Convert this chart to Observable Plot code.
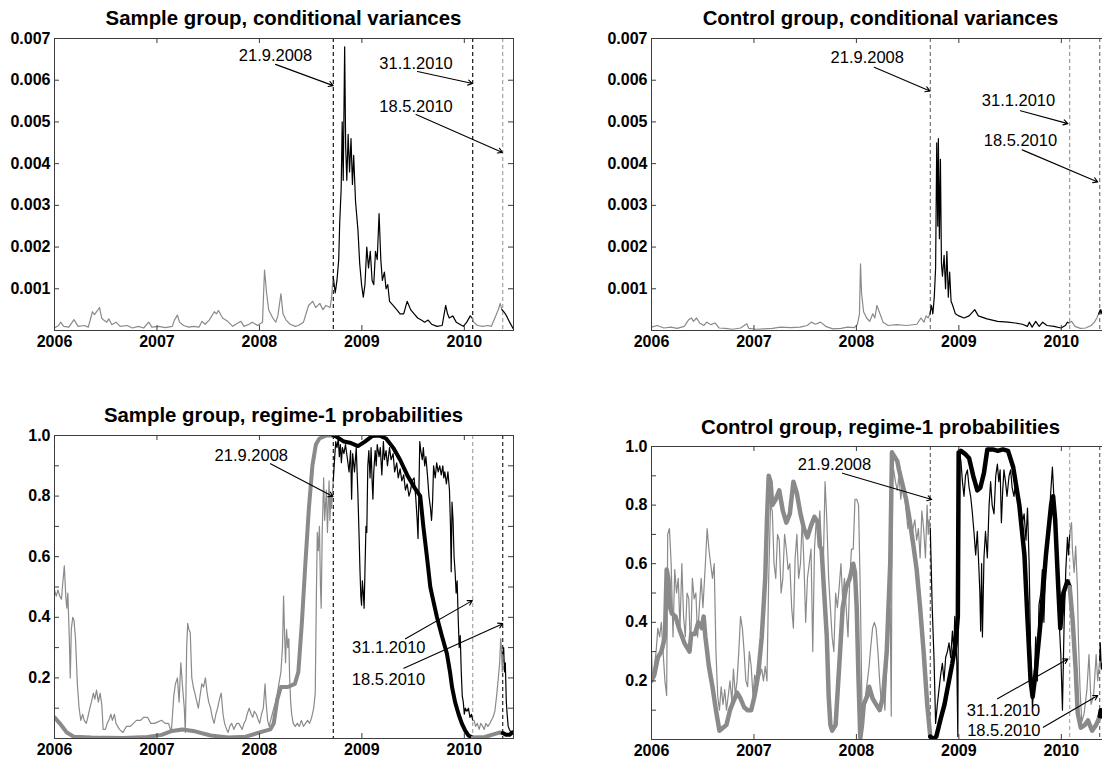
<!DOCTYPE html>
<html><head><meta charset="utf-8">
<script src="https://cdn.jsdelivr.net/npm/d3@7"></script>
<script src="https://cdn.jsdelivr.net/npm/@observablehq/plot@0.6"></script>
<style>
html,body{margin:0;padding:0;width:1102px;height:763px;overflow:hidden;background:#fff;}
#root{position:relative;width:1102px;height:763px;overflow:hidden;}
#root svg{position:absolute;}
.title{position:absolute;font-family:"Liberation Sans",Arial,sans-serif;font-weight:bold;font-size:20.4px;text-align:center;line-height:22px;white-space:nowrap;color:#000;}
</style></head><body><div id="root"></div>
<script>
// ---------- tick labels / categories ----------
const years = [2006, 2007, 2008, 2009, 2010];
const xDomain = [2006, 2010.48];
const varTicks = [0.001, 0.002, 0.003, 0.004, 0.005, 0.006, 0.007];
const probTicks = [0.2, 0.4, 0.6, 0.8, 1.0];
const probMinorTicks = [0.1, 0.3, 0.5, 0.7, 0.9];
const eventYears = [2008.721, 2010.082, 2010.375];
const eventLabels = ["21.9.2008", "31.1.2010", "18.5.2010"];
const titles = ["Sample group, conditional variances", "Control group, conditional variances",
  "Sample group, regime-1 probabilities", "Control group, regime-1 probabilities"];

// ---------- series: [decimal year, value] ----------
const sampleVar = [
[2006.0,0.00006],[2006.04,0.00012],[2006.06,0.0002],[2006.09,0.0001],[2006.14,0.00008],[2006.19,0.00026],[2006.23,0.0001],[2006.29,0.00012],[2006.33,0.00008],[2006.37,0.00045],[2006.39,0.00038],[2006.42,0.00048],[2006.44,0.00055],[2006.46,0.0003],[2006.48,0.00025],[2006.51,0.0002],[2006.53,0.00028],[2006.56,0.00014],[2006.6,0.0002],[2006.64,0.0001],[2006.71,0.00012],[2006.76,0.00006],[2006.82,0.0001],[2006.87,0.00006],[2006.92,0.0002],[2006.95,0.00008],[2007.02,0.0001],[2007.08,0.00007],[2007.15,0.0001],[2007.17,0.00025],[2007.2,0.00037],[2007.22,0.0002],[2007.26,0.00012],[2007.31,0.00008],[2007.36,0.0001],[2007.41,0.00008],[2007.44,0.00022],[2007.47,0.00015],[2007.51,0.00025],[2007.56,0.00045],[2007.58,0.0004],[2007.6,0.00048],[2007.64,0.0003],[2007.69,0.00022],[2007.74,0.0001],[2007.77,0.00015],[2007.82,0.00022],[2007.85,0.0001],[2007.9,0.00015],[2007.93,0.0002],[2007.98,0.00012],[2008.03,0.0002],[2008.05,0.00145],[2008.07,0.0009],[2008.09,0.0005],[2008.13,0.0003],[2008.16,0.0002],[2008.18,0.00035],[2008.21,0.00088],[2008.23,0.0004],[2008.26,0.00025],[2008.3,0.00015],[2008.35,0.0001],[2008.38,0.00012],[2008.43,0.0002],[2008.48,0.0006],[2008.52,0.0007],[2008.55,0.00055],[2008.59,0.00065],[2008.62,0.0005],[2008.65,0.0006],[2008.69,0.00055],[2008.705,0.0008],[2008.72,0.0013],
[2008.74,0.0009],[2008.757,0.0012],[2008.774,0.0017],[2008.784,0.0026],[2008.798,0.0034],[2008.808,0.005],[2008.818,0.0036],[2008.832,0.0068],[2008.842,0.0044],[2008.853,0.0036],[2008.866,0.0047],[2008.88,0.0038],[2008.894,0.0046],[2008.908,0.0035],[2008.92,0.0042],[2008.938,0.0031],[2008.962,0.0024],[2008.979,0.0016],[2008.997,0.0011],[2009.014,0.0008],[2009.03,0.0011],[2009.048,0.002],[2009.065,0.0015],[2009.082,0.0019],[2009.1,0.0012],[2009.116,0.0011],[2009.133,0.0019],[2009.15,0.0017],[2009.168,0.0028],[2009.185,0.0017],[2009.2,0.0012],[2009.22,0.0014],[2009.236,0.001],[2009.253,0.0011],[2009.27,0.0007],[2009.305,0.0006],[2009.34,0.0005],[2009.373,0.0004],[2009.408,0.0004],[2009.442,0.0007],[2009.476,0.0005],[2009.51,0.0004],[2009.545,0.0003],[2009.58,0.00025],[2009.613,0.0002],[2009.647,0.00025],[2009.68,0.00015],[2009.733,0.0001],[2009.784,0.00012],[2009.818,0.0006],[2009.836,0.0004],[2009.853,0.0003],[2009.887,0.00035],[2009.921,0.0002],[2009.955,0.00015],[2009.99,0.0001],[2010.024,0.0002],[2010.058,0.00035],[2010.075,0.0003],
[2010.092,0.0002],[2010.127,0.00012],[2010.178,0.0001],[2010.23,0.00012],[2010.264,0.0001],[2010.298,0.0003],[2010.332,0.0005],[2010.35,0.00065],[2010.367,0.0005],
[2010.384,0.00045],[2010.4,0.0004],[2010.418,0.00032],[2010.442,0.0002],[2010.476,0.00005]];

const controlVar = [
[2006.0,0.00008],[2006.055,0.00012],[2006.12,0.00006],[2006.19,0.00008],[2006.25,0.00005],[2006.32,0.0001],[2006.36,0.00025],[2006.39,0.0003],[2006.41,0.00022],[2006.44,0.0003],[2006.47,0.00018],[2006.51,0.00012],[2006.54,0.0002],[2006.58,0.00014],[2006.62,0.00018],[2006.66,0.00006],[2006.72,0.00005],[2006.79,0.00003],[2006.87,0.00006],[2006.93,0.00016],[2006.95,0.00005],[2007.02,0.00003],[2007.1,0.00004],[2007.18,0.00005],[2007.26,0.00008],[2007.36,0.00007],[2007.45,0.00008],[2007.52,0.00012],[2007.56,0.0002],[2007.6,0.00015],[2007.65,0.0002],[2007.7,0.0001],[2007.77,0.00004],[2007.85,0.00005],[2007.91,0.00008],[2007.98,0.00007],[2008.01,0.00015],[2008.03,0.0004],[2008.04,0.0016],[2008.05,0.0009],[2008.07,0.00045],[2008.1,0.0003],[2008.13,0.00022],[2008.16,0.0004],[2008.18,0.0003],[2008.2,0.0006],[2008.23,0.0004],[2008.26,0.0002],[2008.31,0.00012],[2008.39,0.00014],[2008.49,0.00012],[2008.59,0.00015],[2008.63,0.0003],[2008.66,0.0002],[2008.68,0.00035],[2008.7,0.0003],[2008.718,0.0004],
[2008.732,0.0006],[2008.746,0.0004],[2008.76,0.0008],[2008.773,0.0015],[2008.784,0.0045],[2008.794,0.0025],[2008.8,0.0046],[2008.81,0.0022],[2008.82,0.0041],[2008.83,0.0016],[2008.84,0.0013],[2008.856,0.0018],[2008.87,0.001],[2008.883,0.0019],[2008.897,0.0008],[2008.91,0.0014],[2008.924,0.0007],[2008.94,0.0006],[2008.966,0.0004],[2009.0,0.00035],[2009.05,0.0003],[2009.1,0.00035],[2009.155,0.0005],[2009.19,0.00035],[2009.275,0.00028],[2009.378,0.00022],[2009.48,0.0002],[2009.55,0.00018],[2009.62,0.00015],[2009.67,0.0001],[2009.687,0.0002],[2009.715,0.00008],[2009.75,0.00022],[2009.784,0.0001],[2009.818,0.0002],[2009.86,0.00012],[2009.928,0.0001],[2009.997,0.00006],[2010.04,0.00012],[2010.06,0.0002],[2010.075,0.00018],
[2010.1,0.00022],[2010.134,0.0001],[2010.186,0.00005],[2010.237,0.00006],[2010.29,0.00012],[2010.323,0.0002],[2010.347,0.0003],[2010.364,0.0004],
[2010.38,0.0005],[2010.388,0.0004],[2010.4,0.0005],[2010.43,0.0003],[2010.47,0.0002]];

const sampleProbThin = [
[2006.0,0.49],[2006.017,0.47],[2006.034,0.49],[2006.051,0.47],[2006.068,0.46],[2006.08,0.51],[2006.096,0.57],[2006.11,0.47],[2006.12,0.43],[2006.13,0.48],[2006.144,0.34],[2006.154,0.2],[2006.164,0.36],[2006.178,0.4],[2006.19,0.39],[2006.205,0.33],[2006.223,0.18],[2006.24,0.1],[2006.257,0.06],[2006.275,0.08],[2006.29,0.06],[2006.31,0.05],[2006.325,0.07],[2006.345,0.1],[2006.36,0.12],[2006.38,0.15],[2006.394,0.13],[2006.41,0.16],[2006.428,0.12],[2006.445,0.15],[2006.462,0.11],[2006.475,0.03],[2006.497,0.03],[2006.515,0.05],[2006.53,0.06],[2006.55,0.08],[2006.565,0.06],[2006.585,0.08],[2006.6,0.05],[2006.634,0.03],[2006.668,0.02],[2006.702,0.04],[2006.74,0.04],[2006.77,0.05],[2006.8,0.06],[2006.84,0.06],[2006.87,0.07],[2006.908,0.07],[2006.94,0.05],[2006.976,0.05],[2007.01,0.055],[2007.045,0.06],[2007.08,0.05],[2007.113,0.05],[2007.14,0.02],[2007.164,0.14],[2007.18,0.18],[2007.2,0.2],[2007.216,0.12],[2007.233,0.25],[2007.25,0.17],[2007.267,0.1],[2007.277,0.02],[2007.29,0.3],[2007.3,0.38],[2007.312,0.36],[2007.325,0.35],[2007.34,0.2],[2007.355,0.17],[2007.37,0.15],[2007.39,0.12],[2007.404,0.1],[2007.42,0.14],[2007.438,0.18],[2007.455,0.17],[2007.473,0.2],[2007.49,0.15],[2007.505,0.12],[2007.524,0.1],[2007.54,0.07],[2007.558,0.05],[2007.575,0.08],[2007.592,0.1],[2007.61,0.13],[2007.627,0.15],[2007.645,0.08],[2007.66,0.05],[2007.68,0.03],[2007.695,0.02],[2007.71,0.04],[2007.73,0.05],[2007.75,0.03],[2007.764,0.04],[2007.78,0.05],[2007.798,0.05],[2007.815,0.04],[2007.832,0.03],[2007.85,0.05],[2007.866,0.06],[2007.88,0.08],[2007.9,0.1],[2007.92,0.08],[2007.935,0.07],[2007.95,0.09],[2007.97,0.08],[2007.99,0.06],[2008.003,0.05],[2008.02,0.08],[2008.038,0.1],[2008.055,0.18],[2008.065,0.12],[2008.08,0.06],[2008.095,0.04],[2008.11,0.06],[2008.125,0.08],[2008.14,0.1],[2008.158,0.12],[2008.175,0.15],[2008.19,0.18],[2008.21,0.22],[2008.225,0.3],[2008.236,0.47],[2008.245,0.35],[2008.255,0.25],[2008.265,0.36],[2008.277,0.3],[2008.287,0.33],[2008.295,0.2],[2008.305,0.12],[2008.315,0.08],[2008.33,0.05],[2008.35,0.04],[2008.37,0.05],[2008.39,0.04],[2008.41,0.06],[2008.43,0.04],[2008.45,0.05],[2008.47,0.06],[2008.49,0.05],[2008.51,0.07],[2008.53,0.1],[2008.545,0.15],[2008.555,0.45],[2008.565,0.68],[2008.575,0.62],[2008.586,0.7],[2008.596,0.5],[2008.603,0.43],[2008.613,0.68],[2008.627,0.86],[2008.637,0.72],[2008.647,0.78],[2008.654,0.82],[2008.664,0.68],[2008.671,0.76],[2008.68,0.85],[2008.688,0.72],[2008.697,0.8],[2008.705,0.76],[2008.715,0.83],[2008.721,0.85],
[2008.735,0.93],[2008.745,0.98],[2008.757,0.96],[2008.77,0.99],[2008.78,0.93],[2008.79,0.97],[2008.8,0.91],[2008.81,0.96],[2008.825,0.94],[2008.84,0.97],[2008.86,0.92],[2008.875,0.88],[2008.89,0.95],[2008.9,0.79],[2008.91,0.94],[2008.928,0.88],[2008.945,0.96],[2008.96,0.82],[2008.972,0.68],[2008.982,0.55],[2008.99,0.47],[2008.997,0.44],[2009.005,0.52],[2009.014,0.48],[2009.022,0.43],[2009.03,0.55],[2009.04,0.7],[2009.048,0.68],[2009.058,0.9],[2009.068,0.95],[2009.08,0.86],[2009.09,0.96],[2009.1,0.85],[2009.108,0.79],[2009.116,0.88],[2009.13,0.95],[2009.14,0.9],[2009.15,0.97],[2009.168,0.93],[2009.18,0.96],[2009.195,0.87],[2009.21,0.98],[2009.22,0.92],[2009.236,0.95],[2009.25,0.9],[2009.27,0.96],[2009.285,0.92],[2009.305,0.94],[2009.32,0.88],[2009.34,0.91],[2009.355,0.86],[2009.373,0.89],[2009.39,0.85],[2009.408,0.87],[2009.425,0.82],[2009.442,0.84],[2009.46,0.8],[2009.476,0.82],[2009.49,0.85],[2009.51,0.86],[2009.525,0.8],[2009.54,0.72],[2009.548,0.66],[2009.556,0.8],[2009.565,0.98],[2009.575,0.95],[2009.59,0.92],[2009.6,0.96],[2009.613,0.9],[2009.625,0.93],[2009.64,0.87],[2009.655,0.8],[2009.67,0.76],[2009.68,0.72],[2009.69,0.78],[2009.7,0.9],[2009.716,0.86],[2009.73,0.91],[2009.745,0.88],[2009.76,0.9],[2009.775,0.87],[2009.79,0.9],[2009.8,0.86],[2009.81,0.88],[2009.825,0.84],[2009.84,0.88],[2009.855,0.82],[2009.865,0.7],[2009.872,0.55],[2009.88,0.78],[2009.89,0.72],[2009.9,0.6],[2009.91,0.55],[2009.92,0.48],[2009.93,0.52],[2009.94,0.4],[2009.95,0.3],[2009.96,0.34],[2009.97,0.22],[2009.98,0.14],[2009.99,0.12],[2010.0,0.08],[2010.01,0.1],[2010.025,0.09],[2010.04,0.1],[2010.055,0.07],[2010.07,0.08],[2010.082,0.06],
[2010.095,0.06],[2010.11,0.04],[2010.127,0.05],[2010.145,0.03],[2010.16,0.05],[2010.18,0.04],[2010.195,0.03],[2010.21,0.05],[2010.23,0.04],[2010.25,0.05],[2010.264,0.06],[2010.28,0.07],[2010.298,0.09],[2010.315,0.14],[2010.332,0.2],[2010.345,0.25],[2010.355,0.33],[2010.362,0.3],[2010.37,0.22],[2010.375,0.28],
[2010.384,0.3],[2010.392,0.22],[2010.4,0.25],[2010.41,0.12],[2010.418,0.08],[2010.428,0.04],[2010.44,0.03],[2010.455,0.02],[2010.47,0.02]];

const sampleProbThick = [
[2006.0,0.07],[2006.051,0.05],[2006.12,0.02],[2006.188,0.006],[2006.36,0.003],[2006.668,0.002],[2006.908,0.005],[2007.045,0.012],[2007.147,0.025],[2007.25,0.03],[2007.353,0.025],[2007.524,0.01],[2007.695,0.003],[2007.866,0.006],[2008.003,0.02],[2008.106,0.03],[2008.14,0.05],[2008.175,0.13],[2008.21,0.17],[2008.277,0.17],[2008.346,0.18],[2008.38,0.22],[2008.414,0.38],[2008.449,0.58],[2008.483,0.76],[2008.517,0.9],[2008.551,0.97],[2008.586,0.99],[2008.654,1.0],[2008.721,1.0],
[2008.757,0.995],[2008.825,0.98],[2008.894,0.975],[2008.962,0.965],[2009.03,0.98],[2009.1,0.998],[2009.168,1.0],[2009.236,0.99],[2009.305,0.96],[2009.373,0.92],[2009.442,0.87],[2009.51,0.83],[2009.57,0.8],[2009.6,0.7],[2009.635,0.6],[2009.668,0.5],[2009.7,0.45],[2009.733,0.4],[2009.78,0.34],[2009.83,0.28],[2009.86,0.22],[2009.88,0.17],[2009.91,0.12],[2009.944,0.08],[2009.975,0.05],[2010.01,0.025],[2010.04,0.01],[2010.082,0.003],
[2010.2,0.005],[2010.3,0.015],[2010.35,0.02],[2010.375,0.018],
[2010.41,0.012],[2010.44,0.012],[2010.47,0.02]];

const controlProbThin = [
[2006.0,0.3],[2006.01,0.2],[2006.027,0.25],[2006.045,0.3],[2006.062,0.38],[2006.079,0.35],[2006.096,0.4],[2006.113,0.3],[2006.131,0.2],[2006.148,0.15],[2006.158,0.7],[2006.175,0.72],[2006.192,0.6],[2006.21,0.35],[2006.227,0.58],[2006.244,0.5],[2006.261,0.55],[2006.278,0.38],[2006.296,0.6],[2006.313,0.42],[2006.33,0.35],[2006.347,0.5],[2006.364,0.48],[2006.381,0.3],[2006.399,0.55],[2006.416,0.48],[2006.433,0.5],[2006.45,0.35],[2006.467,0.45],[2006.485,0.55],[2006.502,0.45],[2006.526,0.6],[2006.543,0.72],[2006.56,0.65],[2006.577,0.6],[2006.595,0.55],[2006.612,0.6],[2006.629,0.3],[2006.646,0.15],[2006.663,0.1],[2006.68,0.18],[2006.698,0.12],[2006.715,0.17],[2006.732,0.1],[2006.749,0.15],[2006.766,0.2],[2006.784,0.13],[2006.8,0.24],[2006.818,0.15],[2006.835,0.2],[2006.852,0.3],[2006.869,0.42],[2006.887,0.38],[2006.904,0.3],[2006.921,0.2],[2006.938,0.18],[2006.955,0.3],[2006.973,0.25],[2006.99,0.15],[2007.007,0.22],[2007.024,0.2],[2007.041,0.25],[2007.058,0.22],[2007.076,0.24],[2007.093,0.2],[2007.11,0.25],[2007.127,0.2],[2007.144,0.55],[2007.162,0.8],[2007.179,0.78],[2007.196,0.6],[2007.213,0.55],[2007.23,0.7],[2007.247,0.68],[2007.265,0.5],[2007.282,0.55],[2007.299,0.7],[2007.316,0.65],[2007.333,0.58],[2007.35,0.6],[2007.368,0.45],[2007.385,0.38],[2007.402,0.62],[2007.419,0.7],[2007.436,0.55],[2007.454,0.6],[2007.471,0.75],[2007.488,0.6],[2007.505,0.4],[2007.522,0.55],[2007.557,0.65],[2007.574,0.3],[2007.591,0.65],[2007.608,0.75],[2007.625,0.7],[2007.643,0.78],[2007.66,0.65],[2007.677,0.6],[2007.694,0.88],[2007.711,0.75],[2007.729,0.55],[2007.746,0.45],[2007.763,0.35],[2007.78,0.3],[2007.797,0.5],[2007.814,0.45],[2007.832,0.52],[2007.849,0.6],[2007.866,0.48],[2007.883,0.55],[2007.9,0.45],[2007.918,0.35],[2007.935,0.55],[2007.952,0.65],[2007.969,0.65],[2007.986,0.82],[2008.003,0.82],[2008.021,0.8],[2008.038,0.5],[2008.055,0.1],[2008.072,0.08],[2008.089,0.15],[2008.107,0.2],[2008.124,0.25],[2008.141,0.32],[2008.158,0.38],[2008.175,0.4],[2008.192,0.38],[2008.21,0.3],[2008.227,0.2],[2008.244,0.12],[2008.261,0.18],[2008.278,0.1],[2008.296,0.25],[2008.313,0.4],[2008.33,0.45],[2008.34,0.08],[2008.35,0.9],[2008.364,0.92],[2008.381,0.88],[2008.399,0.85],[2008.416,0.9],[2008.433,0.82],[2008.45,0.88],[2008.467,0.85],[2008.485,0.78],[2008.502,0.72],[2008.519,0.78],[2008.536,0.68],[2008.553,0.72],[2008.57,0.75],[2008.588,0.68],[2008.605,0.72],[2008.622,0.62],[2008.639,0.78],[2008.656,0.72],[2008.674,0.62],[2008.69,0.8],[2008.701,0.7],[2008.71,0.75],[2008.721,0.72],
[2008.74,0.45],[2008.757,0.28],[2008.773,0.055],[2008.79,0.12],[2008.806,0.17],[2008.822,0.22],[2008.839,0.26],[2008.855,0.2],[2008.871,0.28],[2008.888,0.3],[2008.904,0.33],[2008.92,0.28],[2008.937,0.37],[2008.95,0.3],[2008.96,0.42],[2008.98,0.26],[2008.99,0.01],[2009.0,0.99],[2009.02,0.95],[2009.035,0.88],[2009.05,0.83],[2009.065,0.9],[2009.083,0.92],[2009.1,0.86],[2009.115,0.83],[2009.13,0.78],[2009.147,0.71],[2009.164,0.63],[2009.18,0.71],[2009.196,0.58],[2009.205,0.5],[2009.213,0.37],[2009.222,0.6],[2009.23,0.35],[2009.245,0.62],[2009.26,0.71],[2009.278,0.62],[2009.295,0.8],[2009.31,0.88],[2009.325,0.8],[2009.343,0.77],[2009.36,0.9],[2009.376,0.94],[2009.39,0.88],[2009.403,0.92],[2009.415,0.74],[2009.428,0.85],[2009.44,0.92],[2009.455,0.88],[2009.47,0.83],[2009.49,0.9],[2009.505,0.92],[2009.52,0.86],[2009.538,0.83],[2009.555,0.88],[2009.57,0.85],[2009.587,0.8],[2009.604,0.79],[2009.62,0.74],[2009.637,0.77],[2009.655,0.68],[2009.67,0.79],[2009.686,0.6],[2009.7,0.3],[2009.718,0.11],[2009.735,0.2],[2009.75,0.35],[2009.766,0.2],[2009.782,0.46],[2009.8,0.5],[2009.815,0.58],[2009.83,0.4],[2009.848,0.6],[2009.864,0.69],[2009.88,0.75],[2009.896,0.84],[2009.913,0.93],[2009.93,0.81],[2009.946,0.69],[2009.96,0.58],[2009.978,0.41],[2009.995,0.29],[2010.011,0.1],[2010.028,0.41],[2010.044,0.58],[2010.06,0.69],[2010.07,0.63],[2010.082,0.7],
[2010.09,0.72],[2010.1,0.74],[2010.108,0.65],[2010.125,0.57],[2010.14,0.66],[2010.157,0.52],[2010.167,0.34],[2010.183,0.17],[2010.2,0.06],[2010.223,0.09],[2010.25,0.17],[2010.27,0.29],[2010.29,0.12],[2010.315,0.15],[2010.34,0.29],[2010.355,0.2],[2010.375,0.27],
[2010.38,0.33],[2010.39,0.24],[2010.4,0.26],[2010.43,0.2],[2010.47,0.15]];

const controlProbThick = [
[2006.0,0.2],[2006.027,0.22],[2006.062,0.28],[2006.096,0.3],[2006.131,0.35],[2006.148,0.58],[2006.165,0.55],[2006.182,0.45],[2006.199,0.43],[2006.234,0.42],[2006.268,0.38],[2006.32,0.33],[2006.371,0.3],[2006.388,0.36],[2006.423,0.36],[2006.457,0.4],[2006.491,0.38],[2006.509,0.42],[2006.526,0.35],[2006.56,0.25],[2006.595,0.18],[2006.629,0.1],[2006.663,0.03],[2006.698,0.04],[2006.732,0.05],[2006.766,0.1],[2006.8,0.13],[2006.835,0.16],[2006.869,0.14],[2006.904,0.11],[2006.938,0.1],[2006.973,0.1],[2007.007,0.15],[2007.041,0.22],[2007.076,0.35],[2007.11,0.55],[2007.127,0.75],[2007.144,0.9],[2007.162,0.88],[2007.179,0.8],[2007.213,0.82],[2007.247,0.85],[2007.282,0.78],[2007.316,0.74],[2007.35,0.77],[2007.385,0.88],[2007.419,0.84],[2007.454,0.77],[2007.488,0.72],[2007.522,0.69],[2007.557,0.73],[2007.591,0.76],[2007.625,0.74],[2007.643,0.66],[2007.66,0.65],[2007.677,0.55],[2007.711,0.35],[2007.729,0.15],[2007.746,0.05],[2007.763,0.03],[2007.797,0.05],[2007.832,0.25],[2007.866,0.45],[2007.9,0.52],[2007.935,0.55],[2007.969,0.6],[2007.986,0.57],[2008.003,0.45],[2008.021,0.2],[2008.038,0.005],[2008.055,0.05],[2008.072,0.12],[2008.107,0.15],[2008.124,0.18],[2008.158,0.14],[2008.192,0.12],[2008.227,0.1],[2008.261,0.15],[2008.296,0.3],[2008.33,0.6],[2008.347,0.98],[2008.364,0.97],[2008.399,0.95],[2008.416,0.92],[2008.45,0.87],[2008.485,0.82],[2008.519,0.75],[2008.553,0.67],[2008.588,0.58],[2008.622,0.45],[2008.656,0.3],[2008.691,0.12],[2008.721,0.01],
[2008.745,0.0],[2008.78,0.01],[2008.822,0.07],[2008.86,0.12],[2008.887,0.17],[2008.936,0.26],[2008.969,0.33],[2008.99,0.42],[2008.998,0.98],[2009.02,0.985],[2009.06,0.975],[2009.1,0.96],[2009.14,0.9],[2009.18,0.85],[2009.21,0.86],[2009.245,0.91],[2009.278,0.99],[2009.33,0.99],[2009.38,0.985],[2009.43,0.99],[2009.48,0.985],[2009.53,0.93],[2009.59,0.8],[2009.64,0.63],[2009.67,0.41],[2009.7,0.2],[2009.72,0.145],[2009.75,0.23],[2009.8,0.41],[2009.85,0.63],[2009.9,0.8],[2009.92,0.83],[2009.94,0.75],[2009.97,0.52],[2009.99,0.38],[2010.02,0.5],[2010.06,0.54],[2010.082,0.52],
[2010.11,0.41],[2010.14,0.24],[2010.16,0.09],[2010.19,0.04],[2010.23,0.05],[2010.26,0.065],[2010.3,0.03],[2010.34,0.05],[2010.36,0.066],[2010.375,0.08],
[2010.385,0.1],[2010.41,0.075],[2010.44,0.07],[2010.47,0.07]];

// ---------- annotation placement (data units) ----------
const annTL = [
  {label: eventLabels[0], tx: 2008.157, ty: 0.00659, x1: 2008.157, y1: 0.00638, x2: 2008.72, y2: 0.00587},
  {label: eventLabels[1], tx: 2009.529, ty: 0.0064, x1: 2009.543, y1: 0.00621, x2: 2010.08, y2: 0.00592},
  {label: eventLabels[2], tx: 2009.529, ty: 0.00537, x1: 2009.529, y1: 0.00518, x2: 2010.372, y2: 0.00427}];
const annTR = [
  {label: eventLabels[0], tx: 2008.106, ty: 0.00655, x1: 2008.174, y1: 0.00631, x2: 2008.717, y2: 0.00574},
  {label: eventLabels[1], tx: 2009.582, ty: 0.00551, x1: 2009.601, y1: 0.00527, x2: 2010.064, y2: 0.00496},
  {label: eventLabels[2], tx: 2009.601, ty: 0.00456, x1: 2009.618, y1: 0.00433, x2: 2010.356, y2: 0.00356}];
const annBL = [
  {label: eventLabels[0], tx: 2007.921, ty: 0.934, x1: 2008.108, y1: 0.907, x2: 2008.718, y2: 0.799},
  {label: eventLabels[1], tx: 2009.263, ty: 0.299, x1: 2009.426, y1: 0.329, x2: 2010.078, y2: 0.455},
  {label: eventLabels[2], tx: 2009.26, ty: 0.194, x1: 2009.41, y1: 0.232, x2: 2010.375, y2: 0.379}];
const annBR = [
  {label: eventLabels[0], tx: 2007.786, ty: 0.9375, x1: 2007.864, y1: 0.909, x2: 2008.735, y2: 0.819},
  {label: eventLabels[1], tx: 2009.435, ty: 0.0966, x1: 2009.377, y1: 0.139, x2: 2010.064, y2: 0.275},
  {label: eventLabels[2], tx: 2009.439, ty: 0.031, x1: 2009.824, y1: 0.042, x2: 2010.356, y2: 0.15}];

// ---------- rendering ----------
const GRAY = "#8a8a8a", FRAME = "#3c3c3c";
const segColors = [GRAY, "#000", GRAY, "#000"];
const FONT = '"Liberation Sans", Arial, Helvetica, sans-serif';

function splitSegments(pts) {
  const segs = [[], [], [], []];
  pts.forEach(p => {
    const k = eventYears.filter(b => p[0] > b + 1e-9).length;
    segs[k].push(p);
  });
  for (let k = 1; k < segs.length; k++) {
    if (segs[k - 1].length && segs[k].length) segs[k].unshift(segs[k - 1][segs[k - 1].length - 1]);
  }
  return segs;
}

function makePanel(cfg) {
  const innerW = cfg.width - cfg.ml - cfg.mr;
  const innerH = cfg.height - cfg.mt - cfg.mb;
  const marks = [];
  eventYears.forEach((e, i) => marks.push(Plot.ruleX([e], {
    stroke: cfg.ruleColors[i], strokeWidth: cfg.ruleWidths[i], strokeDasharray: "4,3"})));
  cfg.series.forEach(s => {
    splitSegments(s.data).forEach((seg, k) => {
      if (seg.length > 1) marks.push(Plot.line(seg, {x: d => d[0], y: d => d[1],
        stroke: segColors[k], strokeWidth: s.width, strokeLinejoin: "round", clip: true}));
    });
  });
  marks.push(Plot.arrow(cfg.ann, {x1: "x1", y1: "y1", x2: "x2", y2: "y2",
    stroke: "#000", strokeWidth: 1.1, headLength: 7}));
  marks.push(Plot.text(cfg.ann, {x: "tx", y: "ty", text: "label", fontSize: 16.5,
    fontWeight: "normal", fill: "#000"}));
  marks.push(Plot.frame({stroke: FRAME, strokeWidth: 1}));
  const tickMarks = cfg.yTickMarks;
  marks.push(Plot.tickY(tickMarks, {y: d => d, insetRight: innerW - 5, stroke: FRAME}));
  marks.push(Plot.tickY(tickMarks, {y: d => d, insetLeft: innerW - 5, stroke: FRAME}));
  marks.push(Plot.tickX(years, {x: d => d, insetTop: innerH - 5, stroke: FRAME}));
  marks.push(Plot.tickX(years, {x: d => d, insetBottom: innerH - 5, stroke: FRAME}));
  marks.push(Plot.axisX({ticks: years, tickSize: 0, tickPadding: 5, tickFormat: d => String(d), label: null}));
  marks.push(Plot.axisY({ticks: cfg.yLabels, tickSize: 0, tickPadding: 4, tickFormat: cfg.fmt, label: null}));
  const svg = Plot.plot({
    width: cfg.width, height: cfg.height,
    marginLeft: cfg.ml, marginRight: cfg.mr, marginTop: cfg.mt, marginBottom: cfg.mb,
    x: {domain: xDomain},
    y: {domain: cfg.yDomain},
    style: {fontFamily: FONT, fontSize: "16px", fontWeight: "bold", background: "transparent", color: "#000"},
    marks
  });
  svg.style.left = cfg.left + "px";
  svg.style.top = cfg.top + "px";
  return svg;
}

const root = document.getElementById("root");
const fmtVar = d3.format(".3f"), fmtProb = d3.format(".1f");
const panels = [
  {left: 0, top: 0, width: 540, height: 360, ml: 54, mr: 27, mt: 38, mb: 30, yDomain: [0, 0.007],
   yLabels: varTicks, yTickMarks: varTicks, fmt: fmtVar,
   series: [{data: sampleVar, width: 1.2}], ann: annTL,
   ruleColors: ["#000", "#000", "#9a9a9a"], ruleWidths: [1.1, 1.1, 1.1],
   title: titles[0], titleTop: 7},
  {left: 597, top: 0, width: 540, height: 360, ml: 54, mr: 27, mt: 38, mb: 30, yDomain: [0, 0.007],
   yLabels: varTicks, yTickMarks: varTicks, fmt: fmtVar,
   series: [{data: controlVar, width: 1.2}], ann: annTR,
   ruleColors: ["#444", "#777", "#444"], ruleWidths: [0.9, 0.9, 0.9],
   title: titles[1], titleTop: 7},
  {left: 0, top: 400, width: 540, height: 363, ml: 54, mr: 27, mt: 35, mb: 25, yDomain: [0, 1],
   yLabels: probTicks, yTickMarks: probTicks.concat(probMinorTicks), fmt: fmtProb,
   series: [{data: sampleProbThick, width: 4}, {data: sampleProbThin, width: 1.2}], ann: annBL,
   ruleColors: ["#000", "#9a9a9a", "#111"], ruleWidths: [1.1, 1.1, 1.1],
   title: titles[2], titleTop: 404},
  {left: 597, top: 400, width: 540, height: 363, ml: 54, mr: 27, mt: 46, mb: 24, yDomain: [0, 1],
   yLabels: probTicks, yTickMarks: probTicks.concat(probMinorTicks), fmt: fmtProb,
   series: [{data: controlProbThick, width: 4.5}, {data: controlProbThin, width: 1.2}], ann: annBR,
   ruleColors: ["#333", "#9a9a9a", "#444"], ruleWidths: [0.9, 1, 1],
   title: titles[3], titleTop: 416}
];
panels.forEach(p => root.appendChild(makePanel(p)));
panels.forEach(p => {
  const t = document.createElement("div");
  t.className = "title";
  t.textContent = p.title;
  t.style.left = (p.left + p.ml) + "px";
  t.style.width = (p.width - p.ml - p.mr) + "px";
  t.style.top = p.titleTop + "px";
  root.appendChild(t);
});
</script></body></html>
